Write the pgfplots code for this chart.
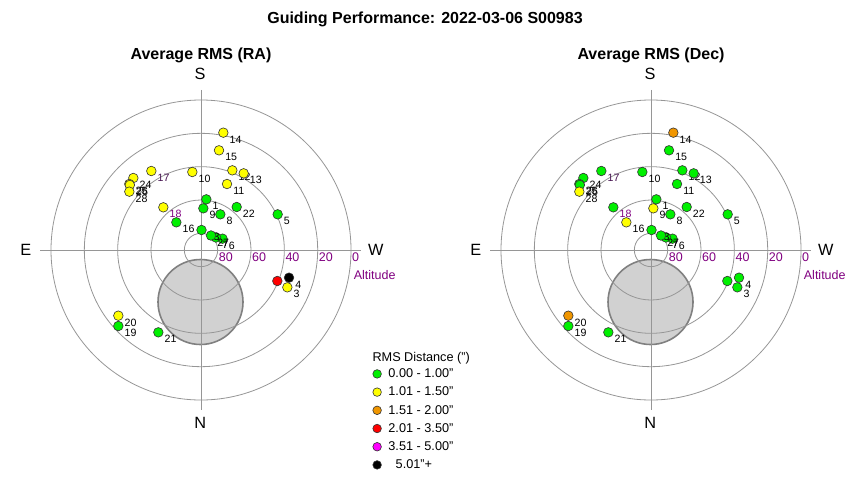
\documentclass[border=0pt]{standalone}
\usepackage{pgfplots}
\pgfplotsset{compat=1.18}
\usepackage{fontspec}
\setmainfont{Liberation Sans}

\definecolor{cGreen}{RGB}{0,240,0}
\definecolor{cYellow}{RGB}{255,255,0}
\definecolor{cOrange}{RGB}{240,150,0}
\definecolor{cRed}{RGB}{255,0,0}
\definecolor{cMag}{RGB}{255,0,255}
\definecolor{ringc}{RGB}{150,150,150}
\definecolor{altc}{RGB}{128,0,128}
\definecolor{lab17}{RGB}{70,20,80}

\pgfplotsset{
  sky/.style={
    x=1.6667pt, y=1.6667pt,
    xmin=-90, xmax=90, ymin=-90, ymax=90,
    enlargelimits=false, hide axis, clip=false,
    anchor=south west,
  },
  pts/.style={
    forget plot, only marks, mark=*, mark size=4.8pt,
    mark options={draw=black!80, line width=0.6pt, fill=#1},
    point meta=explicit symbolic,
    nodes near coords,
    every node near coord/.append style={anchor=base west, inner sep=0pt,
      xshift=6pt, yshift=-10.6pt, font=\fontsize{10.6}{12}\selectfont, text=black},
  },
  lg/.style={only marks, mark=*, mark size=4.3pt,
    mark options={draw=black!80, line width=0.6pt, fill=#1}},
}

% rings, cross, obstruction and labels (same for both plots)
\newcommand{\skygrid}{%
  \draw[draw=black!50, fill=black!18, line width=1.6pt] (axis cs:-0.3,-31.2) circle[radius=25.5];
  \draw[ringc, line width=0.8pt] (axis cs:0,0) circle[radius=10];
  \draw[ringc, line width=0.8pt] (axis cs:0,0) circle[radius=30];
  \draw[ringc, line width=0.8pt] (axis cs:0,0) circle[radius=50];
  \draw[ringc, line width=0.8pt] (axis cs:0,0) circle[radius=70];
  \draw[ringc, line width=0.8pt] (axis cs:0,0) circle[radius=90];
  \draw[ringc, line width=0.8pt] (axis cs:-96.6,0) -- (axis cs:96,0);
  \draw[ringc, line width=0.8pt] (axis cs:0,96) -- (axis cs:0,-96);
  \tikzset{tl/.style={anchor=base west, inner sep=0pt, xshift=1pt, text=altc, font=\fontsize{12.5}{14}\selectfont}}
  \node[tl] at (axis cs:10,-7) {80};
  \node[tl] at (axis cs:30,-7) {60};
  \node[tl] at (axis cs:50,-7) {40};
  \node[tl] at (axis cs:70,-7) {20};
  \node[tl] at (axis cs:90,-7) {0};
  \node[tl, xshift=0pt] at (axis cs:91,-17.4) {Altitude};
  \tikzset{cp/.style={anchor=base, inner sep=0pt, font=\fontsize{16.3}{18}\selectfont}}
  \node[cp] at (axis cs:-0.6,102) {S};
  \node[cp] at (axis cs:-0.5,-107) {N};
  \node[cp] at (axis cs:-105.1,-3.1) {E};
  \node[cp] at (axis cs:104.9,-3.4) {W};
}

\begin{document}
\begin{tikzpicture}
\useasboundingbox (0,0) rectangle (850pt,-480pt);

\node[anchor=base, font=\bfseries\fontsize{16}{19}\selectfont] at (425pt,-23.7pt) {Guiding Performance: 2022-03-06 S00983};
\node[anchor=base, font=\bfseries\fontsize{16}{19}\selectfont] at (201pt,-59.7pt) {Average RMS (RA)};
\node[anchor=base, font=\bfseries\fontsize{16}{19}\selectfont] at (651pt,-59.7pt) {Average RMS (Dec)};

% ---------------- RA ----------------
\begin{axis}[sky, at={(51pt,-400pt)},
  legend style={at={(axis description cs:1.0727,0.1043)}, anchor=north west,
    draw=none, fill=none, inner sep=0pt, outer sep=0pt, row sep=8.2pt, column sep=7pt,
    font=\fontsize{12.7}{14}\selectfont,
    nodes={inner sep=0pt, anchor=base west, text height=9pt, text depth=1pt}},
  legend cell align=left,
  legend image code/.code={\draw[#1] plot coordinates {(4.5pt,3.8pt)};},
]
\skygrid
\addplot[pts=cGreen] coordinates {
  (3.2,30.4)[1] (46.0,21.4)[5] (12.9,6.8)[6] (9.0,7.5)[7] (11.6,21.4)[8]
  (1.4,25.0)[9] (-14.8,16.6)[16] (-49.6,-45.6)[19] (-25.6,-49.4)[21]
  (21.4,25.8)[22] (0.3,12.0)[23] (6.0,8.7)[27]
};
\addplot[pts=cRed] coordinates {(45.8,-18.6)[2]};
\addplot[pts=black] coordinates {(52.8,-16.6)[4]};
\addplot[pts=cYellow] coordinates {
  (51.8,-22.4)[3] (-5.2,46.8)[10] (15.6,39.6)[11] (18.8,47.8)[12]
  (25.6,46.0)[13] (13.4,70.4)[14] (10.8,59.8)[15] (-49.6,-39.4)[20]
  (-40.6,43.2)[24] (-43.0,39.6)[25] (-42.7,39.0)[26] (-43.0,35.0)[28]
};
\addplot[pts=cYellow, every node near coord/.append style={text=lab17}] coordinates {(-29.8,47.4)[17]};
\addplot[pts=cYellow, every node near coord/.append style={text=altc}] coordinates {(-22.6,25.6)[18]};

\addlegendimage{lg=cGreen}
\addlegendimage{lg=cYellow}
\addlegendimage{lg=cOrange}
\addlegendimage{lg=cRed}
\addlegendimage{lg=cMag}
\addlegendimage{lg=black}
\legend{0.00 - 1.00", 1.01 - 1.50", 1.51 - 2.00", 2.01 - 3.50", 3.51 - 5.00", \hspace{7.3pt}5.01"+}
\end{axis}

% ---------------- Dec ----------------
\begin{axis}[sky, at={(501pt,-400pt)}]
\skygrid
\addplot[pts=cGreen] coordinates {
  (3.2,30.4)[1] (45.8,-18.6)[2] (51.8,-22.4)[3] (52.8,-16.6)[4] (46.0,21.4)[5]
  (12.9,6.8)[6] (9.0,7.5)[7] (11.6,21.4)[8] (-5.2,46.8)[10] (15.6,39.6)[11]
  (18.8,47.8)[12] (25.6,46.0)[13] (10.8,59.8)[15] (-49.6,-45.6)[19]
  (-25.6,-49.4)[21] (21.4,25.8)[22] (0.3,12.0)[23] (-40.6,43.2)[24]
  (-43.0,39.6)[25] (-42.7,39.0)[26] (6.0,8.7)[27]
};
\addplot[pts=cGreen, every node near coord/.append style={text=lab17}] coordinates {(-29.8,47.4)[17]};
\addplot[pts=cGreen, every node near coord/.append style={text=altc}] coordinates {(-22.6,25.6)[18]};
\addplot[pts=cYellow] coordinates {(1.4,25.0)[9] (-14.8,16.6)[16] (-43.0,35.0)[28]};
\addplot[pts=cOrange] coordinates {(13.4,70.4)[14] (-49.6,-39.4)[20]};
\end{axis}

\node[anchor=base west, inner sep=0pt, font=\fontsize{12.7}{14}\selectfont] at (372.3pt,-361.7pt) {RMS Distance (")};
\end{tikzpicture}
\end{document}
